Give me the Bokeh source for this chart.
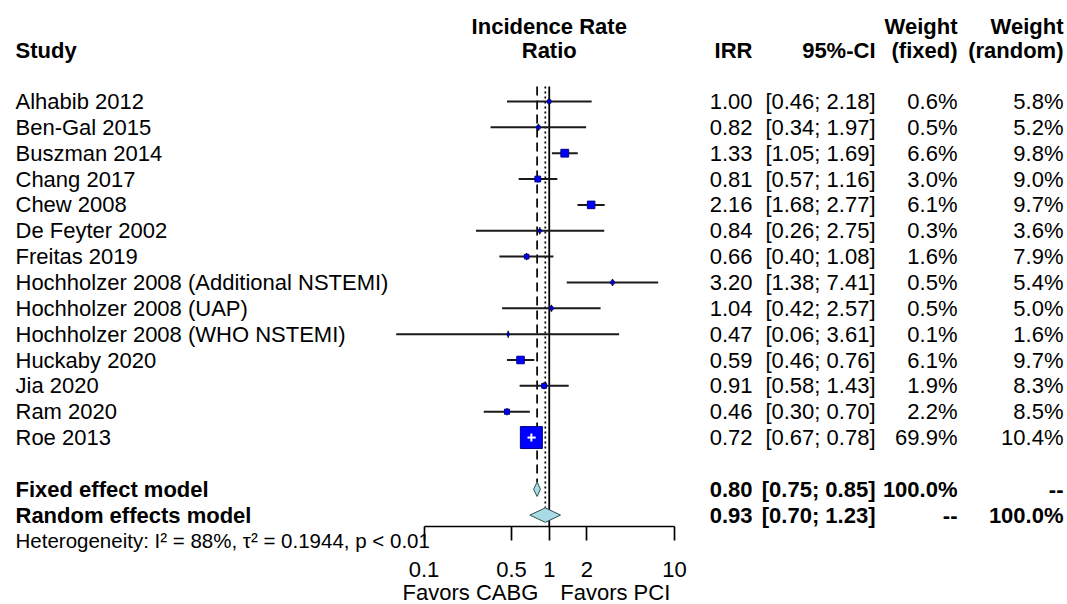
import numpy as np
from bokeh.plotting import figure
from bokeh.models import (Range1d, FixedTicker, CustomJSTickFormatter, LinearScale,
                          ColumnDataSource)
from bokeh.core.properties import value
from bokeh.embed import file_html
from bokeh.resources import INLINE

# ---------------- data ----------------
studies = ["Alhabib 2012", "Ben-Gal 2015", "Buszman 2014", "Chang 2017",
           "Chew 2008", "De Feyter 2002", "Freitas 2019",
           "Hochholzer 2008 (Additional NSTEMI)", "Hochholzer 2008 (UAP)",
           "Hochholzer 2008 (WHO NSTEMI)", "Huckaby 2020", "Jia 2020",
           "Ram 2020", "Roe 2013"]
irr = [1.00, 0.82, 1.33, 0.81, 2.16, 0.84, 0.66, 3.20, 1.04, 0.47, 0.59, 0.91, 0.46, 0.72]
ci_lower = [0.46, 0.34, 1.05, 0.57, 1.68, 0.26, 0.40, 1.38, 0.42, 0.06, 0.46, 0.58, 0.30, 0.67]
ci_upper = [2.18, 1.97, 1.69, 1.16, 2.77, 2.75, 1.08, 7.41, 2.57, 3.61, 0.76, 1.43, 0.70, 0.78]
weight_fixed = [0.6, 0.5, 6.6, 3.0, 6.1, 0.3, 1.6, 0.5, 0.5, 0.1, 6.1, 1.9, 2.2, 69.9]
weight_random = [5.8, 5.2, 9.8, 9.0, 9.7, 3.6, 7.9, 5.4, 5.0, 1.6, 9.7, 8.3, 8.5, 10.4]

model_labels = ["Fixed effect model", "Random effects model"]
model_irr = [0.80, 0.93]
model_lower = [0.75, 0.70]
model_upper = [0.85, 1.23]
model_w_fixed = ["100.0%", "--"]
model_w_random = ["--", "100.0%"]

heterogeneity = "Heterogeneity: I\u00b2 = 88%, \u03c4\u00b2 = 0.1944, p < 0.01"
axis_ticks = [0.1, 0.5, 1, 2, 10]
axis_tick_labels = ["0.1", "0.5", "1", "2", "10"]
label_left = "Favors CABG"
label_right = "Favors PCI"
headers_top = ["Incidence Rate", "Weight", "Weight"]
headers_bottom = ["Study", "Ratio", "IRR", "95%-CI", "(fixed)", "(random)"]

# ---------------- layout constants ----------------
W, H = 1067, 604
FONT = "Liberation Sans"
FS = "22px"
OX, OY = 0, 0            # reference-pixel -> canvas offset
DEC = 125.25             # pixels per decade on the log axis
X01 = 423.5              # reference x of 0.1
ROW0, ROWH = 101.0, 25.85
AXIS_Y = 526.0

log_start = -1 - (X01 - OX) / DEC
log_end = -1 + (OX + W - X01) / DEC
y_top = -(ROW0 - OY) / ROWH
y_bot = (OY + H - ROW0) / ROWH
y_axis = (AXIS_Y - ROW0) / ROWH

n = len(studies)
rows = list(range(n))
row_fixed, row_random = n + 1, n + 2
row_het = n + 2.98
row_fav = n + 4.99
hdr1, hdr2 = -2.9, -1.97

p = figure(width=W, height=H, x_axis_type="log",
           x_range=Range1d(10 ** log_start, 10 ** log_end),
           y_range=Range1d(y_bot, y_top),
           y_axis_location=None, toolbar_location=None, output_backend="svg",
           min_border_left=0, min_border_right=0, min_border_top=0,
           min_border_bottom=0, outline_line_color=None,
           background_fill_color="white", border_fill_color="white")
p.extra_x_ranges = {"px": Range1d(OX, OX + W)}
p.extra_x_scales = {"px": LinearScale()}
p.xgrid.visible = False
p.ygrid.visible = False

# ---------------- reference lines ----------------
diam_h = 0.28
line_top = -0.58
p.segment(x0=[1], y0=[line_top], x1=[1], y1=[y_axis], line_color="black", line_width=1.8)
p.segment(x0=[model_irr[0]], y0=[line_top], x1=[model_irr[0]], y1=[row_fixed - diam_h],
          line_color="black", line_width=1.7, line_dash="9 5")
p.segment(x0=[model_irr[1]], y0=[line_top], x1=[model_irr[1]], y1=[row_random - diam_h],
          line_color="black", line_width=1.7, line_dash="2 3")

# ---------------- study CIs and squares ----------------
sq = [1.5 + 2.45 * np.sqrt(w) for w in weight_fixed]
inside = [(np.log10(u / e) * DEC < s / 2) and (np.log10(e / l) * DEC < s / 2)
          for e, l, u, s in zip(irr, ci_lower, ci_upper, sq)]
src = ColumnDataSource(dict(y=rows, est=irr, lo=ci_lower, up=ci_upper, s=sq))
p.segment(x0="lo", y0="y", x1="up", y1="y", source=src, line_color="#1a1a1a", line_width=2)
p.scatter(x="est", y="y", source=src, marker="dash", angle=np.pi / 2, size=7,
          line_color="#111111", line_width=1.5)
p.rect(x="est", y="y", width="s", height="s", width_units="screen", height_units="screen",
       source=src, fill_color="#0000ff", line_color="#00008b", line_width=1)

ins_idx = [i for i, f in enumerate(inside) if f]
src_in = ColumnDataSource(dict(y=[rows[i] for i in ins_idx], est=[irr[i] for i in ins_idx],
                               lo=[ci_lower[i] for i in ins_idx], up=[ci_upper[i] for i in ins_idx]))
p.segment(x0="lo", y0="y", x1="up", y1="y", source=src_in, line_color="white", line_width=2)
p.scatter(x="est", y="y", source=src_in, marker="dash", angle=np.pi / 2, size=8,
          line_color="white", line_width=2)

# ---------------- summary diamonds ----------------
mrows = [row_fixed, row_random]
xs = [[l, e, u, e] for l, e, u in zip(model_lower, model_irr, model_upper)]
ys = [[r, r - diam_h, r, r + diam_h] for r in mrows]
p.patches(xs=xs, ys=ys, fill_color="#a9dbe6", line_color="#2f4f4f", line_width=1)

# ---------------- text columns ----------------
def txt(x, y, t, align, bold=False, rng="px", xoff=0, size=FS):
    s = ColumnDataSource(dict(x=x, y=y, t=t))
    kw = dict(x_range_name=rng) if rng else {}
    p.text(x="x", y="y", text="t", source=s, text_font=value(FONT), text_font_size=size,
           text_align=align, text_baseline="middle", text_color="black", x_offset=xoff,
           text_font_style="bold" if bold else "normal", **kw)

COL_STUDY, COL_IRR, COL_CI, COL_WF, COL_WR = 15, 752, 875, 957, 1063

txt([COL_STUDY] * n, rows, studies, "left")
txt([COL_IRR] * n, rows, ["%.2f" % v for v in irr], "right")
txt([COL_CI] * n, rows, ["[%.2f; %.2f]" % (l, u) for l, u in zip(ci_lower, ci_upper)], "right")
txt([COL_WF] * n, rows, ["%.1f%%" % w for w in weight_fixed], "right")
txt([COL_WR] * n, rows, ["%.1f%%" % w for w in weight_random], "right")

txt([COL_STUDY] * 2, mrows, model_labels, "left", bold=True)
txt([COL_IRR] * 2, mrows, ["%.2f" % v for v in model_irr], "right", bold=True)
txt([COL_CI] * 2, mrows, ["[%.2f; %.2f]" % (l, u) for l, u in zip(model_lower, model_upper)],
    "right", bold=True)
txt([COL_WF] * 2, mrows, model_w_fixed, "right", bold=True)
txt([COL_WR] * 2, mrows, model_w_random, "right", bold=True)

# headers
txt([1], [hdr1], [headers_top[0]], "center", bold=True, rng=None)
txt([1], [hdr2], [headers_bottom[1]], "center", bold=True, rng=None)
txt([COL_STUDY], [hdr2], [headers_bottom[0]], "left", bold=True)
txt([COL_IRR, COL_CI, COL_WF, COL_WR], [hdr2] * 4, headers_bottom[2:], "right", bold=True)
txt([COL_WF, COL_WR], [hdr1] * 2, headers_top[1:], "right", bold=True)

# heterogeneity and direction labels
txt([COL_STUDY], [row_het], [heterogeneity], "left", size="20.5px")
txt([1], [row_fav], [label_left], "right", rng=None, xoff=-11)
txt([1], [row_fav], [label_right], "left", rng=None, xoff=11)

# ---------------- axis ----------------
ax = p.xaxis[0]
ax.fixed_location = y_axis
ax.ticker = FixedTicker(ticks=axis_ticks, minor_ticks=[])
ax.formatter = CustomJSTickFormatter(args=dict(tv=axis_ticks, tl=axis_tick_labels), code="""
    for (let i = 0; i < tv.length; i++) { if (Math.abs(tv[i] - tick) < 1e-9) return tl[i]; }
    return '';
""")
ax.bounds = (axis_ticks[0], axis_ticks[-1])
ax.axis_line_color = "black"
ax.axis_line_width = 1.7
ax.major_tick_line_color = "black"
ax.major_tick_line_width = 1.7
ax.major_tick_out = 14
ax.major_tick_in = 0
ax.minor_tick_out = 0
ax.minor_tick_in = 0
ax.major_label_standoff = 21
ax.major_label_text_font = FONT
ax.major_label_text_font_size = FS
ax.major_label_text_color = "black"

open("out.html", "w").write(file_html(p, INLINE))
